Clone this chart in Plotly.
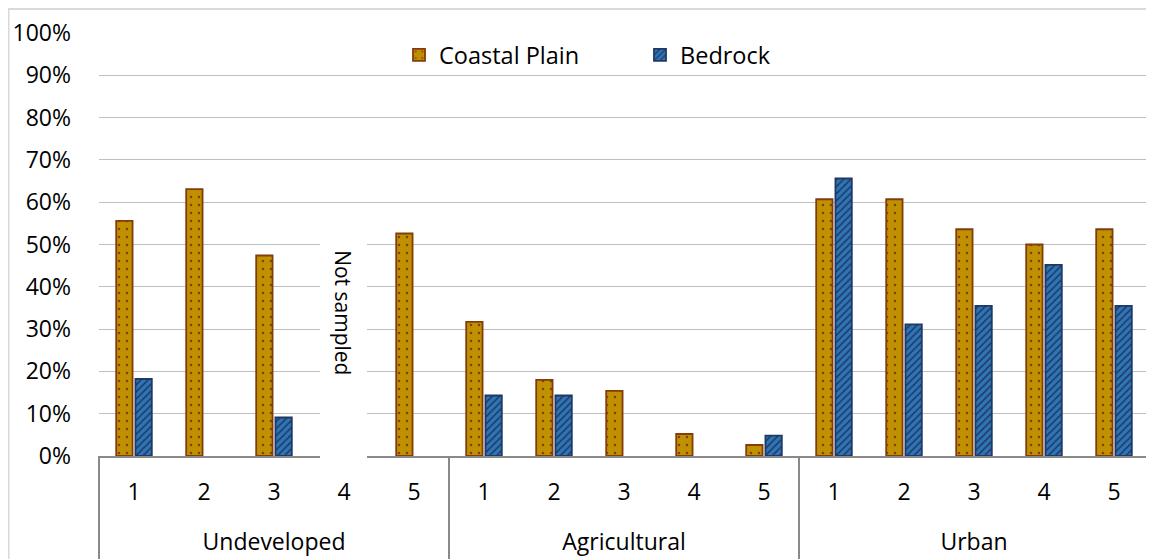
import plotly.graph_objects as go

groups = ["Undeveloped", "Agricultural", "Urban"]
sites = ["1", "2", "3", "4", "5"]
coastal_plain = [0.556, 0.631, 0.474, None, 0.526,
                 0.317, 0.180, 0.154, 0.052, 0.026,
                 0.607, 0.607, 0.536, 0.500, 0.536]
bedrock = [0.182, 0.0, 0.091, None, 0.0,
           0.143, 0.143, 0.0, 0.0, 0.048,
           0.656, 0.311, 0.355, 0.452, 0.355]
y_ticks = [0, 0.1, 0.2, 0.3, 0.4, 0.5, 0.6, 0.7, 0.8, 0.9, 1.0]

# group labels sit one line lower than the site numbers
group_labels = ["<br>" + g for g in groups]
x_multi = [[g for g in group_labels for _ in sites], [s for _ in groups for s in sites]]

FONT = "Open Sans"
FS = 23

# page body has an 8px margin; positions below are in window pixels
OFF = 8
PL, PR, PT, PB = 99, 1149, 33, 456   # plot area in window pixels
PW, PH = PR - PL, PB - PT


def px(xw):
    return (xw - PL) / PW


def py(yw):
    return (PB - yw) / PH


def outline_widths(vals, w):
    # zero-height bars show no outline (as in the reference)
    return [0 if (v is None or v == 0) else w for v in vals]


fig = go.Figure()
fig.add_trace(go.Bar(
    name="Coastal Plain", x=x_multi, y=coastal_plain,
    marker=dict(color="#BF9000",
                line=dict(color="#843C0C", width=outline_widths(coastal_plain, 1.8)),
                pattern=dict(shape=".", fgcolor="#843C0C", bgcolor="#BF9000",
                             size=8, solidity=0.08, fillmode="replace")),
))
fig.add_trace(go.Bar(
    name="Bedrock", x=x_multi, y=bedrock,
    marker=dict(color="#2E75B6",
                line=dict(color="#1F3864", width=outline_widths(bedrock, 1.8)),
                pattern=dict(shape="/", fgcolor="#1F3864", bgcolor="#2E75B6",
                             size=5, solidity=0.3, fillmode="replace")),
))

# white box behind "Not sampled"
fig.add_shape(type="rect", xref="paper", yref="paper",
              x0=px(320), x1=px(367), y0=py(459), y1=py(215),
              fillcolor="white", line=dict(width=0), layer="above")
fig.add_annotation(x=px(327), xref="paper", y=0.34, yref="y",
                   text="Not sampled", textangle=90, showarrow=False,
                   font=dict(family=FONT, size=21, color="black"))

# category box dividers (group boundaries) extending to the bottom
for xd in [0, 1 / 3, 2 / 3, 1]:
    fig.add_shape(type="line", xref="paper", yref="paper",
                  x0=xd, x1=xd, y0=0, y1=-0.3,
                  line=dict(color="#898989", width=2), layer="above")

# outer chart border
fig.add_shape(type="rect", xref="paper", yref="paper",
              x0=px(8.5), x1=1.2, y0=-0.5, y1=py(9),
              line=dict(color="#D9D9D9", width=2), fillcolor="rgba(0,0,0,0)",
              layer="below")

fig.update_layout(
    width=1154, height=559,
    margin=dict(l=PL - OFF, r=1154 - (PR - OFF), t=PT - OFF, b=559 - (PB - OFF)),
    paper_bgcolor="white", plot_bgcolor="white",
    barmode="group", bargap=0.45, bargroupgap=0.15,
    font=dict(family=FONT, size=FS, color="black"),
    showlegend=True,
    legend=dict(orientation="h", x=px(399), xanchor="left",
                y=py(55), yanchor="middle",
                font=dict(family=FONT, size=FS + 0.5, color="black"),
                bgcolor="rgba(0,0,0,0)", entrywidth=196, entrywidthmode="pixels"),
    xaxis=dict(type="multicategory", showline=True, linecolor="#898989", linewidth=2,
               showdividers=False, automargin=False, layer="above traces",
               ticklabelstandoff=14,
               tickfont=dict(family=FONT, size=FS, color="black"), showgrid=False),
    yaxis=dict(range=[0, 1.0], tickvals=y_ticks, tickformat=".0%",
               showgrid=True, gridcolor="#BFBFBF", gridwidth=1.3,
               zeroline=False, showline=False, automargin=False,
               ticklabelstandoff=27,
               tickfont=dict(family=FONT, size=FS, color="black")),
)

fig.write_html("out.html")
